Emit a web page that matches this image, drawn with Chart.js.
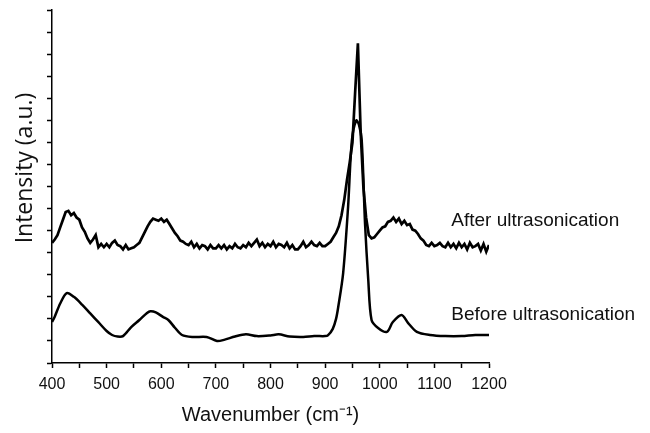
<!DOCTYPE html>
<html>
<head>
<meta charset="utf-8">
<script src="https://cdn.jsdelivr.net/npm/chart.js@4/dist/chart.umd.min.js"></script>
<style>
    body { margin: 0; background: #fff; }
    #wrap { width: 650px; height: 433px; }
</style>
</head>
<body>
<div id="wrap"><canvas id="ramanChart" width="650" height="433"></canvas></div>
<script>
// spectrum after ultrasonication (wavenumber / intensity)
const afterX = [
    400, 405, 410, 415, 420, 425, 430, 435, 440, 445,
    450, 455, 460, 465, 470, 475, 480, 485, 490, 495,
    500, 505, 510, 515, 520, 525, 530, 535, 540, 545,
    550, 555, 560, 565, 570, 575, 580, 585, 590, 595,
    600, 605, 610, 615, 620, 625, 630, 635, 640, 645,
    650, 655, 660, 665, 670, 675, 680, 685, 690, 695,
    700, 705, 710, 715, 720, 725, 730, 735, 740, 745,
    750, 755, 760, 765, 770, 775, 780, 785, 790, 795,
    800, 805, 810, 815, 820, 825, 830, 835, 840, 845,
    850, 855, 860, 865, 870, 875, 880, 885, 890, 895,
    900, 905, 910, 915, 920, 925, 930, 935, 940, 945,
    950, 955, 960, 965, 970, 975, 980, 985, 990, 995,
    1000, 1005, 1010, 1015, 1020, 1025, 1030, 1035, 1040, 1045,
    1050, 1055, 1060, 1065, 1070, 1075, 1080, 1085, 1090, 1095,
    1100, 1105, 1110, 1115, 1120, 1125, 1130, 1135, 1140, 1145,
    1150, 1155, 1160, 1165, 1170, 1175, 1180, 1185, 1190, 1195,
    1200
];
const afterY = [
    5.45, 5.6, 5.8, 6.15, 6.5, 6.85, 6.9, 6.7, 6.8, 6.6,
    6.5, 6.15, 5.95, 5.65, 5.45, 5.6, 5.8, 5.25, 5.4, 5.25,
    5.4, 5.25, 5.45, 5.55, 5.35, 5.3, 5.15, 5.35, 5.15, 5.2,
    5.25, 5.35, 5.45, 5.7, 5.95, 6.2, 6.4, 6.55, 6.5, 6.45,
    6.55, 6.4, 6.5, 6.3, 6.1, 5.9, 5.75, 5.55, 5.5, 5.4,
    5.35, 5.5, 5.25, 5.4, 5.2, 5.35, 5.3, 5.15, 5.35, 5.2,
    5.2, 5.35, 5.2, 5.35, 5.15, 5.3, 5.2, 5.4, 5.25, 5.2,
    5.35, 5.25, 5.45, 5.3, 5.45, 5.6, 5.3, 5.45, 5.25, 5.4,
    5.3, 5.5, 5.25, 5.4, 5.35, 5.25, 5.45, 5.2, 5.35, 5.15,
    5.15, 5.3, 5.5, 5.25, 5.35, 5.5, 5.35, 5.3, 5.45, 5.3,
    5.3, 5.4, 5.5, 5.7, 5.9, 6.2, 6.7, 7.4, 8.3, 9.1,
    10.0, 12.3, 14.5, 10.5, 8.0, 6.6, 5.8, 5.65, 5.7, 5.85,
    6.0, 6.15, 6.2, 6.4, 6.45, 6.6, 6.4, 6.55, 6.3, 6.45,
    6.25, 6.3, 6.05, 6.0, 5.85, 5.65, 5.55, 5.35, 5.3, 5.45,
    5.3, 5.35, 5.45, 5.3, 5.25, 5.45, 5.25, 5.4, 5.2, 5.45,
    5.25, 5.4, 5.15, 5.45, 5.25, 5.3, 5.4, 5.1, 5.4, 5.05,
    5.35
];

// spectrum before ultrasonication
const beforeX = [
    400, 405, 415, 427, 440, 455, 470, 485, 500, 510,
    520, 530, 545, 560, 574, 580, 590, 603, 613, 625,
    638, 658, 683, 702, 715, 735, 755, 775, 800, 815,
    835, 860, 880, 900, 905, 914, 920, 924, 933, 942,
    949, 957, 962, 967, 973, 979, 985, 997, 1013, 1024,
    1040, 1052, 1068, 1092, 1120, 1150, 1175, 1200
];
const beforeY = [
    1.86, 2.1, 2.7, 3.17, 3.0, 2.65, 2.25, 1.85, 1.45, 1.27,
    1.2, 1.22, 1.63, 1.95, 2.27, 2.35, 2.3, 2.09, 1.95, 1.6,
    1.27, 1.18, 1.18, 1.0, 1.05, 1.2, 1.3, 1.22, 1.25, 1.3,
    1.2, 1.18, 1.22, 1.22, 1.25, 1.55, 2.0, 2.54, 4.08, 7.07,
    10.1, 11.0, 10.8, 10.1, 6.35, 3.76, 1.95, 1.59, 1.41, 1.86,
    2.18, 1.81, 1.41, 1.27, 1.22, 1.22, 1.27, 1.27
];

// tick labels on the wavenumber axis
const xTickLabels = [400, 500, 600, 700, 800, 900, 1000, 1100, 1200];

// helper to pair x and y arrays
function toPoints(xs, ys) {
    return xs.map((x, i) => ({ x: x, y: ys[i] }));
}

// draws the y title and the two curve captions
const textPlugin = {
    id: 'textPlugin',
    afterDraw(chart) {
        const ctx = chart.ctx;
        const xs = chart.scales.x;
        const ys = chart.scales.y;
        ctx.save();
        ctx.fillStyle = '#111';

        ctx.font = '23px "Open Sans"';
        ctx.textAlign = 'center';
        ctx.textBaseline = 'middle';
        ctx.translate(25, 168);
        ctx.rotate(-Math.PI / 2);
        ctx.fillText('Intensity (a.u.)', 0, 0);
        ctx.setTransform(1, 0, 0, 1, 0, 0);

        ctx.font = '19px "Liberation Sans", Arial, sans-serif';
        ctx.textAlign = 'left';
        ctx.fillText('After ultrasonication', xs.getPixelForValue(1131), ys.getPixelForValue(6.45));
        ctx.fillText('Before ultrasonication', xs.getPixelForValue(1131), ys.getPixelForValue(2.2));
        ctx.restore();
    }
};

const ctx = document.getElementById('ramanChart').getContext('2d');

const chart = new Chart(ctx, {
    type: 'line',
    data: {
        datasets: [
            {
                label: 'After ultrasonication',
                data: toPoints(afterX, afterY),
                borderColor: '#000',
                borderWidth: 2.7,
                pointRadius: 0,
                tension: 0
            },
            {
                label: 'Before ultrasonication',
                data: toPoints(beforeX, beforeY),
                borderColor: '#000',
                borderWidth: 2.5,
                pointRadius: 0,
                tension: 0.3
            }
        ]
    },
    options: {
        responsive: false,
        animation: false,
        devicePixelRatio: 1,
        layout: { padding: { top: 10, right: 161, left: 0, bottom: 0 } },
        plugins: {
            legend: { display: false },
            tooltip: { enabled: false }
        },
        scales: {
            x: {
                type: 'linear',
                min: 400,
                max: 1200,
                afterFit: (scale) => { scale.height = 70; },
                border: { display: true, color: '#000', width: 1.5 },
                grid: { drawOnChartArea: false, drawTicks: true, tickLength: 5, color: '#000', tickWidth: 1.5 },
                ticks: {
                    stepSize: 50,
                    autoSkip: false,
                    maxRotation: 0,
                    padding: 7,
                    color: '#111',
                    font: { family: '"Liberation Sans", Arial, sans-serif', size: 16 },
                    callback: (v) => xTickLabels.includes(v) ? String(v) : ''
                },
                title: {
                    display: true,
                    text: 'Wavenumber (cm⁻¹)',
                    color: '#111',
                    font: { family: '"Liberation Sans", Arial, sans-serif', size: 20 },
                    padding: { top: 0, bottom: 6 }
                }
            },
            y: {
                min: 0,
                max: 16,
                afterFit: (scale) => { scale.width = 52; },
                border: { display: true, color: '#000', width: 1.5 },
                grid: { drawOnChartArea: false, drawTicks: true, tickLength: 5, color: '#000', tickWidth: 1.5 },
                ticks: {
                    stepSize: 1,
                    autoSkip: false,
                    callback: () => ''
                }
            }
        }
    },
    plugins: [textPlugin]
});
</script>
</body>
</html>
